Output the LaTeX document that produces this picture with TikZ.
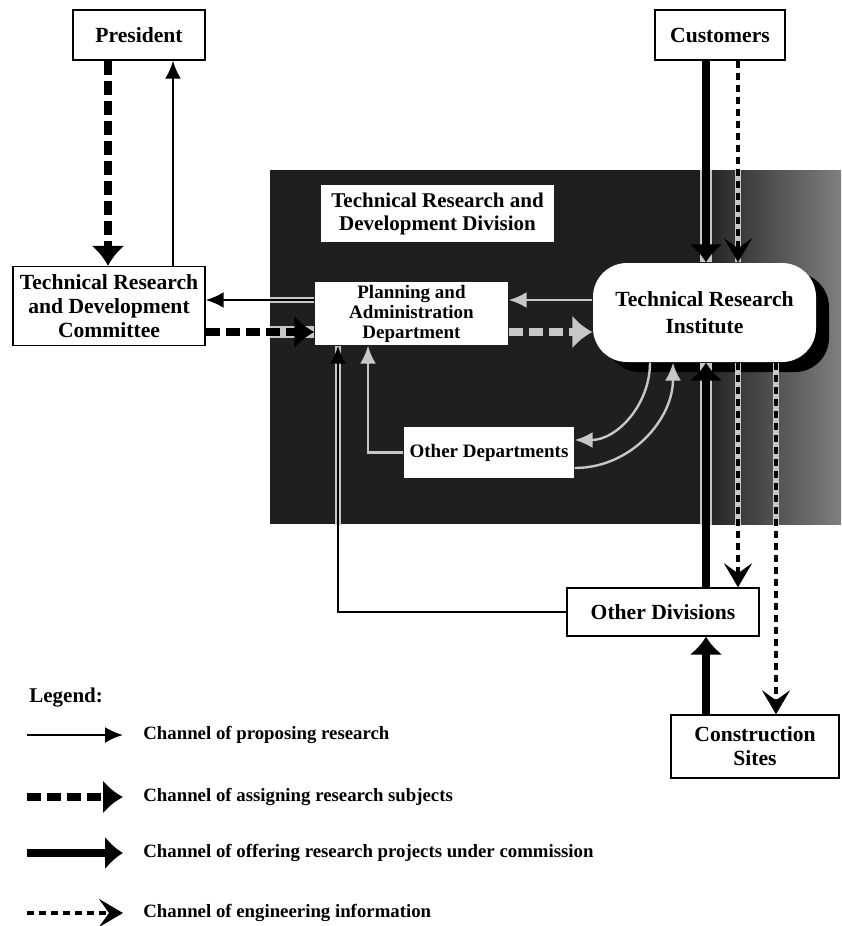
\documentclass[tikz,border=0pt]{standalone}
\usepackage{fontspec}
\setmainfont{Liberation Serif}
\usetikzlibrary{arrows.meta,shadows}

\definecolor{lite}{gray}{0.78}

\tikzset{
  box/.style={draw, line width=0.7pt, fill=white, inner sep=1pt, align=center,
    font=\bfseries\fontsize{10.8}{12}\selectfont},
  whitebox/.style={box, draw=none},
  smalltext/.style={font=\bfseries\fontsize{9.5}{10}\selectfont},
  propose/.style={line width=1.2pt, -{Latex[length=9pt,width=8pt]}},
  assign/.style={line width=4pt, dash pattern=on 7pt off 3pt, -{Latex[length=10pt,width=17pt]}},
  commission/.style={line width=4pt, -{Latex[length=9pt,width=17pt]}},
  enginfo/.style={line width=1.6pt, dash pattern=on 3.5pt off 2.5pt,
    -{Stealth[length=12pt,width=14pt,inset=5pt]}},
  halo/.style={draw=lite},
  legtext/.style={anchor=west, inner xsep=10pt, inner ysep=1pt,
    font=\bfseries\fontsize{9.4}{10}\selectfont},
}

\begin{document}
\begin{tikzpicture}[x=0.5pt, y=-0.5pt]
        \useasboundingbox (0,0) rectangle (841,926);

        % Division background
        \fill[black!88] (270,170) rectangle (841,524);
        \shade[left color=black!88, right color=black!50] (700,170) rectangle (841,524);

        % Outside units
        \node[box, minimum width=66pt, minimum height=25pt] (pres) at (139,35) {President};
        \node[box, minimum width=65pt, minimum height=25pt] (cust) at (720,35) {Customers};
        \node[box, minimum width=96pt, minimum height=39.5pt] (comm) at (109,306)
            {Technical Research\\and Development\\Committee};
        \node[box, minimum width=96pt, minimum height=24pt] (odiv) at (663,612) {Other Divisions};
        \node[box, minimum width=84pt, minimum height=31.5pt] (cons) at (755,746.5)
            {Construction\\Sites};

        % Inside the division
        \node[whitebox, minimum width=116.5pt, minimum height=28.5pt,
            font=\bfseries\fontsize{10.5}{11.5}\selectfont] (title) at (437.5,213.5)
            {Technical Research and\\Development Division};
        \node[whitebox, smalltext, minimum width=96.5pt, minimum height=31.5pt] (plan) at (411.5,313.5)
            {Planning and\\Administration\\Department};
        \node[whitebox, smalltext, minimum width=85pt, minimum height=25.5pt] (odep) at (489,452.5)
            {Other Departments};
        \node[whitebox, rounded corners=17pt, minimum width=111.5pt, minimum height=49.5pt,
            font=\bfseries\fontsize{10.8}{13.5}\selectfont,
            drop shadow={shadow xshift=6.5pt, shadow yshift=-5pt, fill=black, opacity=1}]
            (inst) at (704.5,312.5) {Technical Research\\Institute};

        % Lanes
        \coordinate (xa) at (108,0);
        \coordinate (xb) at (173,0);
        \coordinate (xc) at (706,0);
        \coordinate (xd) at (738,0);
        \coordinate (xe) at (776,0);
        \coordinate (xf) at (338,0);
        \coordinate (xg) at (368,0);
        \coordinate (xh) at (650,0);
        \coordinate (xi) at (673,0);
        \coordinate (ya) at (0,300);
        \coordinate (yb) at (0,332);
        \coordinate (yc) at (0,440);
        \coordinate (yd) at (0,468);

        % Light edges of the black lines inside the division
        \begin{scope}
            \clip (270,170) rectangle (841,524);
            \draw[halo, line width=2.8pt] (plan.west |- ya) -- (comm.east |- ya);
            \draw[halo, line width=5.6pt] (comm.east |- yb) -- (plan.west |- yb);
            \draw[halo, line width=5.6pt] (cust.south -| xc) -- (inst.north -| xc);
            \draw[halo, line width=3.2pt] (cust.south -| xd) -- (inst.north -| xd);
            \draw[halo, line width=2.8pt] (odiv.west) -| (plan.south -| xf);
            \draw[halo, line width=5.6pt] (odiv.north -| xc) -- (inst.south -| xc);
            \draw[halo, line width=3.2pt] (inst.south -| xd) -- (odiv.north -| xd);
            \draw[halo, line width=3.2pt] (inst.south -| xe) -- (cons.north -| xe);
        \end{scope}

        % President and committee
        \draw[assign] (pres.south -| xa) -- (comm.north -| xa);
        \draw[propose] (comm.north -| xb) -- (pres.south -| xb);

        % Committee and planning
        \draw[propose] (plan.west |- ya) -- (comm.east |- ya);
        \draw[assign] (comm.east |- yb) -- (plan.west |- yb);

        % Planning and institute
        \draw[propose, lite] (inst.west |- ya) -- (plan.east |- ya);
        \draw[assign, lite] (plan.east |- yb) -- (inst.west |- yb);

        % Customers
        \draw[commission] (cust.south -| xc) -- (inst.north -| xc);
        \draw[enginfo] (cust.south -| xd) -- (inst.north -| xd);

        % Other departments
        \draw[propose, lite] (odep.west) -| (plan.south -| xg);
        \draw[propose, lite] (inst.south -| xh) to[out=-90, in=0] (odep.east |- yc);
        \draw[propose, lite] (odep.east |- yd) to[out=0, in=-90] (inst.south -| xi);

        % Other divisions and construction sites
        \draw[propose] (odiv.west) -| (plan.south -| xf);
        \draw[commission] (odiv.north -| xc) -- (inst.south -| xc);
        \draw[enginfo] (inst.south -| xd) -- (odiv.north -| xd);
        \draw[enginfo] (inst.south -| xe) -- (cons.north -| xe);
        \draw[commission] (cons.north -| xc) -- (odiv.south -| xc);

        % Legend
        \node[anchor=west, inner sep=0pt, font=\bfseries\fontsize{10.5}{12}\selectfont] (legend)
            at (29,698) {Legend:};
        \coordinate (ls1) at (27,735);
        \coordinate (ls2) at (27,797);
        \coordinate (ls3) at (27,853);
        \coordinate (ls4) at (27,913);
        \node[legtext] (leg1) at (123,735) {Channel of proposing research};
        \node[legtext] (leg2) at (123,797) {Channel of assigning research subjects};
        \node[legtext] (leg3) at (123,853) {Channel of offering research projects under commission};
        \node[legtext] (leg4) at (123,913) {Channel of engineering information};
        \draw[propose] (ls1) -- (leg1.west);
        \draw[assign] (ls2) -- (leg2.west);
        \draw[commission] (ls3) -- (leg3.west);
        \draw[enginfo] (ls4) -- (leg4.west);
    \end{tikzpicture}
\end{document}
